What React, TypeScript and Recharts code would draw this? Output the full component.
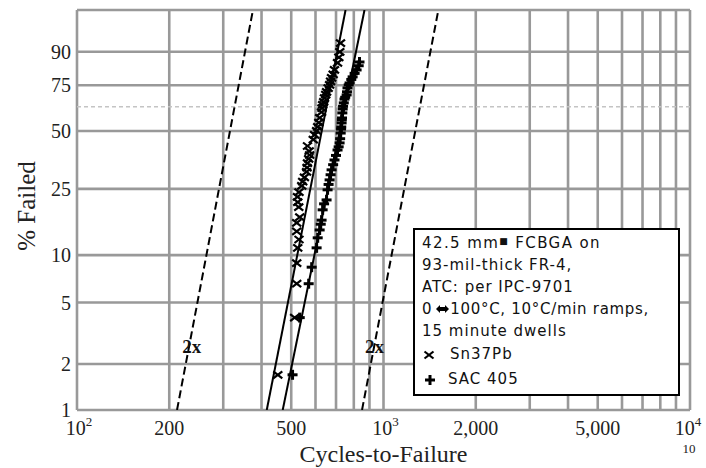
import React from "react";
import {
  ScatterChart,
  Scatter,
  XAxis,
  YAxis,
  ReferenceLine,
  ReferenceDot,
  Legend,
} from "recharts";

// cycles-to-failure and plotted % failed
const SN_CYCLES = [
  452, 513, 521, 521, 525, 530, 521, 521, 533, 529, 525, 524, 530, 541, 545, 552, 561, 563, 565, 570, 574, 572, 565,
  590, 596, 605, 610, 615, 619, 628, 630, 633, 638, 642, 648, 652, 660, 667, 672, 677, 685, 692, 708, 715, 720, 724,
];
const SN_PCT = [
  1.7, 4.0, 6.6, 8.9, 11.1, 12.5, 14.0, 15.8, 17.1, 19.6, 21.0, 22.5, 24.0, 26.0, 27.5, 29.0, 31.1, 32.8, 34.7, 36.5,
  38.2, 40.0, 42.4, 45.5, 47.9, 50.0, 52.1, 54.5, 57.0, 60.3, 62.5, 64.3, 66.0, 68.1, 70.0, 71.4, 73.5, 75.2, 77.0,
  78.8, 80.5, 82.6, 85.7, 88.0, 90.0, 92.8,
];
const SAC_CYCLES = [
  505, 533, 570, 583, 605, 610, 619, 624, 628, 633, 640, 652, 657, 662, 667, 672, 677, 685, 692, 700, 708, 714, 719,
  722, 725, 727, 728, 730, 731, 732, 734, 736, 738, 742, 746, 750, 758, 760, 763, 770, 775, 785, 793, 805, 817, 830,
  835,
];
const SAC_PCT = [
  1.7, 4.0, 6.6, 8.4, 11.1, 12.8, 14.3, 15.5, 16.4, 18.9, 20.5, 21.6, 24.7, 26.5, 28.1, 30.0, 31.9, 34.0, 36.0, 38.0,
  40.5, 42.0, 43.9, 46.0, 48.9, 51.0, 52.1, 54.3, 56.0, 57.0, 59.8, 62.0, 63.5, 65.4, 67.5, 68.5, 69.8, 71.5, 73.6,
  75.2, 76.2, 78.0, 79.3, 81.0, 82.6, 84.5, 86.1,
];

// fitted lines, read where they cross the 1% line and the top edge
const FIT_PCT = [1, 98.7];
const SN_FIT = [416, 752];
const SAC_FIT = [469, 867];
const HALF_FIT = [212, 375];
const DOUBLE_FIT = [851, 1510];

const Y_TICKS = [1, 2, 5, 10, 25, 50, 75, 90];
const Y_TOP = 98.7;
const CHAR_LIFE = 63.2;
const X_TICKS = [100, 200, 500, 1000, 2000, 5000, 10000];
const X_GRID = [100, 200, 300, 400, 500, 600, 700, 800, 900, 1000, 2000, 3000, 4000, 5000, 6000, 7000, 8000, 9000, 10000];

const SERIES = ["Sn37Pb", "SAC 405"];

const SERIF = "'Liberation Serif', 'Times New Roman', serif";
const SANS = "'DejaVu Sans', Verdana, sans-serif";
const GRID = "#999";

const weib = (p: number) => Math.log(-Math.log(1 - p / 100));
const toPct = (w: number) => 100 * (1 - Math.exp(-Math.exp(w)));

const points = (cycles: number[], pct: number[]) => cycles.map((c, i) => ({ c, w: weib(pct[i]) }));

const snData = points(SN_CYCLES, SN_PCT);
const sacData = points(SAC_CYCLES, SAC_PCT);
const snFit = points(SN_FIT, FIT_PCT);
const sacFit = points(SAC_FIT, FIT_PCT);
const halfFit = points(HALF_FIT, FIT_PCT);
const doubleFit = points(DOUBLE_FIT, FIT_PCT);

function Cross(props: any) {
  const { cx, cy } = props;
  return (
    <g stroke="#000" strokeWidth={2.2}>
      <line x1={cx - 4.5} y1={cy - 3.5} x2={cx + 4.5} y2={cy + 3.5} />
      <line x1={cx - 4.5} y1={cy + 3.5} x2={cx + 4.5} y2={cy - 3.5} />
    </g>
  );
}

function Plus(props: any) {
  const { cx, cy } = props;
  return (
    <g stroke="#000" strokeWidth={3}>
      <line x1={cx - 5} y1={cy} x2={cx + 5} y2={cy} />
      <line x1={cx} y1={cy - 5} x2={cx} y2={cy + 5} />
    </g>
  );
}

const NoDot = () => <g />;

const SUPS: Record<number, string> = { 100: "2", 1000: "3", 10000: "4" };

function XTick(props: any) {
  const { x, y, payload } = props;
  const v = payload.value as number;
  if (SUPS[v]) {
    return (
      <g fontFamily={SERIF} fill="#222">
        <text x={x + 2} y={y + 25} fontSize={20} textAnchor="middle">
          10
          <tspan fontSize={13} dy={-9}>
            {SUPS[v]}
          </tspan>
        </text>
        {v === 10000 && (
          <text x={x + 3} y={y + 43} fontSize={13} textAnchor="middle">
            10
          </text>
        )}
      </g>
    );
  }
  return (
    <text x={x} y={y + 25} fontSize={20} fontFamily={SERIF} fill="#222" textAnchor="middle">
      {v >= 1000 ? v.toLocaleString("en-US") : v}
    </text>
  );
}

function YTick(props: any) {
  const { x, y, payload } = props;
  return (
    <text x={x - 6} y={y} dy="0.35em" fontSize={20} fontFamily={SERIF} fill="#222" textAnchor="end">
      {Math.round(toPct(payload.value))}
    </text>
  );
}

function YTitle(props: any) {
  const { viewBox } = props;
  const cx = viewBox.x + 9;
  const cy = viewBox.y + 196;
  return (
    <text x={cx} y={cy} transform={`rotate(-90 ${cx} ${cy})`} dy="0.35em" textAnchor="middle" fontSize={25} fontFamily={SERIF} fill="#222">
      % Failed
    </text>
  );
}

function XTitle(props: any) {
  const { viewBox } = props;
  return (
    <text x={viewBox.x + viewBox.width / 2} y={viewBox.y + 52} textAnchor="middle" fontSize={24} fontFamily={SERIF} fill="#222">
      Cycles-to-Failure
    </text>
  );
}

function LegendBox() {
  const line: React.CSSProperties = { height: 22, lineHeight: "22px", whiteSpace: "nowrap" };
  const item: React.CSSProperties = { height: 25, lineHeight: "25px", whiteSpace: "nowrap", display: "flex", alignItems: "center" };
  return (
    <div
      style={{
        boxSizing: "border-box",
        width: 267,
        height: 168,
        border: "2px solid #000",
        background: "#fff",
        padding: "2px 0 0 7px",
        fontFamily: SANS,
        fontSize: 15,
        letterSpacing: 1,
        color: "#111",
      }}
    >
      <div style={{ ...line, letterSpacing: 1.4 }}>
        42.5 mm<span style={{ fontSize: 9, position: "relative", top: -4 }}>■</span> FCBGA on
      </div>
      <div style={line}>93-mil-thick FR-4,</div>
      <div style={line}>ATC: per IPC-9701</div>
      <div style={{ ...line, letterSpacing: 0.7 }}>
        0
        <svg width={13} height={10} style={{ margin: "0 1px 0 4px" }}>
          <path d="M0 5 L4 1 L4 3 L9 3 L9 1 L13 5 L9 9 L9 7 L4 7 L4 9 Z" fill="#000" />
        </svg>
        100°C, 10°C/min ramps,
      </div>
      <div style={line}>15 minute dwells</div>
      <div style={item}>
        <svg width={16} height={14} style={{ marginRight: 12 }}>
          <Cross cx={7} cy={7} />
        </svg>
        {SERIES[0]}
      </div>
      <div style={item}>
        <svg width={16} height={14} style={{ marginRight: 10 }}>
          <Plus cx={8} cy={7} />
        </svg>
        {SERIES[1]}
      </div>
    </div>
  );
}

export default function App() {
  if (typeof document !== "undefined") document.body.style.margin = "0";
  return (
    <div style={{ width: 706, height: 468, background: "#fff" }}>
      <ScatterChart width={706} height={468} margin={{ top: 10, right: 16, bottom: 0, left: 17 }}>
        <XAxis
          type="number"
          dataKey="c"
          scale="log"
          domain={[100, 10000]}
          ticks={X_TICKS}
          allowDataOverflow
          axisLine={false}
          tickLine={false}
          tickSize={0}
          tickMargin={0}
          height={58}
          tick={<XTick />}
          label={<XTitle />}
        />
        <YAxis
          type="number"
          dataKey="w"
          domain={[weib(1), weib(Y_TOP)]}
          ticks={Y_TICKS.map(weib)}
          allowDataOverflow
          axisLine={false}
          tickLine={false}
          tickSize={0}
          tickMargin={0}
          width={60}
          tick={<YTick />}
          label={<YTitle />}
        />
        {X_GRID.map((v) => (
          <ReferenceLine key={"x" + v} x={v} stroke={GRID} strokeWidth={2.6} />
        ))}
        {[...Y_TICKS, Y_TOP].map((p) => (
          <ReferenceLine key={"y" + p} y={weib(p)} stroke={GRID} strokeWidth={2.6} />
        ))}
        <ReferenceLine y={weib(CHAR_LIFE)} stroke="#c4c4c4" strokeWidth={1.5} strokeDasharray="4 3" />
        <Scatter data={halfFit} shape={NoDot} line={{ stroke: "#000", strokeWidth: 2, strokeDasharray: "8 4" }} isAnimationActive={false} legendType="none" />
        <Scatter data={doubleFit} shape={NoDot} line={{ stroke: "#000", strokeWidth: 2, strokeDasharray: "8 4" }} isAnimationActive={false} legendType="none" />
        <Scatter data={snFit} shape={NoDot} line={{ stroke: "#000", strokeWidth: 2 }} isAnimationActive={false} legendType="none" />
        <Scatter data={sacFit} shape={NoDot} line={{ stroke: "#000", strokeWidth: 2 }} isAnimationActive={false} legendType="none" />
        <Scatter name={SERIES[0]} data={snData} shape={Cross} isAnimationActive={false} />
        <Scatter name={SERIES[1]} data={sacData} shape={Plus} isAnimationActive={false} />
        <ReferenceDot x={237} y={weib(2.6)} r={0} stroke="none" label={{ value: "2x", position: "center", fontSize: 19, fontWeight: "bold", fontFamily: SERIF, fill: "#111" }} />
        <ReferenceDot x={935} y={weib(2.6)} r={0} stroke="none" label={{ value: "2x", position: "center", fontSize: 19, fontWeight: "bold", fontFamily: SERIF, fill: "#111" }} />
        <Legend
          layout="vertical"
          align="center"
          verticalAlign="middle"
          wrapperStyle={{ left: 413, top: 228, width: 267, height: 168 }}
          content={<LegendBox />}
        />
      </ScatterChart>
    </div>
  );
}
